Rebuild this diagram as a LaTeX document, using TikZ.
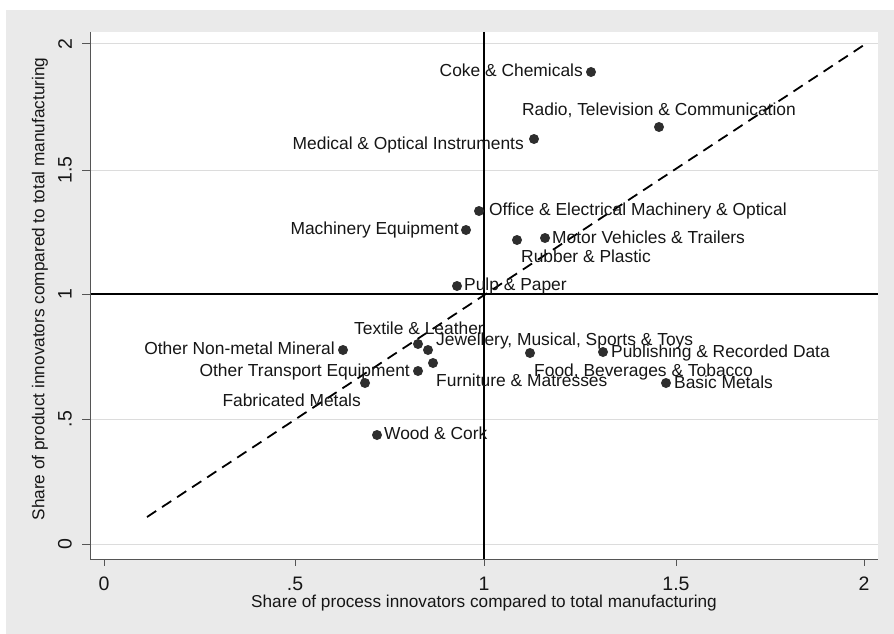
\documentclass[tikz,border=0pt]{standalone}
\usepackage{fontspec}
\setmainfont{Liberation Sans}
\definecolor{bgcol}{HTML}{EAEAEA}
\definecolor{gridcol}{HTML}{DCDCDC}
\definecolor{axiscol}{HTML}{555555}
\definecolor{textcol}{HTML}{161616}
\definecolor{dotcol}{HTML}{2E2E2E}
\begin{document}
\begin{tikzpicture}[x=1pt,y=-1pt,
  dot/.style={circle,fill=dotcol,inner sep=0pt,minimum size=10pt},
  lab/.style={font=\fontsize{17.4}{19}\selectfont,text=textcol,inner sep=0pt,text height=12.5pt,text depth=3.7pt},
  ticklab/.style={font=\fontsize{19.5}{21}\selectfont,text=textcol,inner sep=0pt},
  axtitle/.style={font=\fontsize{17.2}{19}\selectfont,text=textcol,inner sep=0pt},
  gridline/.style={draw=gridcol,line width=1pt},
  refline/.style={draw=black,line width=1.5pt},
  axisline/.style={draw=axiscol,line width=1pt}]
\useasboundingbox (0,0) rectangle (894,634);
\fill[white] (0,0) rectangle (894,634);
\fill[bgcol] (6,10) rectangle (894,634);
\fill[white] (90,32) rectangle (878,559);
% grid
\foreach \yy in {44,170,419,544} \draw[gridline] (90,\yy) -- (878,\yy);
% reference lines
\coordinate (hl) at (90,294); \coordinate (hr) at (878,294);
\coordinate (vt) at (484,32); \coordinate (vb) at (484,559);
\draw[refline] (hl) -- (hr);
\draw[refline] (vt) -- (vb);
% diagonal
\coordinate (d0) at (147,517); \coordinate (d1) at (864,45);
\draw[black,line width=1.8pt,dash pattern=on 11pt off 7pt] (d0) -- (d1);
% axes
\coordinate (o) at (90,559); \coordinate (ytop) at (90,32); \coordinate (xr) at (878,559);
\draw[axisline] (ytop) -- (o) -- (xr);
\foreach \yy/\t in {544/0,419/.5,294/1,170/1.5,44/2} {
  \draw[axisline] (82,\yy) -- (90,\yy);
  \node[ticklab,rotate=90] at (65,\yy) {\t};
}
\foreach \xx/\t in {104/0,295/.5,484/1,676/1.5,864/2} {
  \draw[axisline] (\xx,559) -- (\xx,566);
  \node[ticklab] at (\xx,584) {\t};
}
\node[axtitle] (xt) at (484,603) {Share of process innovators compared to total manufacturing};
\node[axtitle,rotate=90] (yt) at (40,289) {Share of product innovators compared to total manufacturing};
% data
\node[dot] (coke) at (591,72) {};
\node[lab,anchor=east] (cokeL) at (583,72) {Coke \& Chemicals};
\node[dot] (radio) at (659,127) {};
\node[lab] (radioL) at (659,111) {Radio, Television \& Communication};
\node[dot] (med) at (534,139) {};
\node[lab,anchor=east] (medL) at (524,145) {Medical \& Optical Instruments};
\node[dot] (off) at (479,211) {};
\node[lab,anchor=west] (offL) at (489,211) {Office \& Electrical Machinery \& Optical};
\node[dot] (mach) at (466,230) {};
\node[lab,anchor=east] (machL) at (459,230) {Machinery Equipment};
\node[dot] (rub) at (517,240) {};
\node[lab,anchor=west] (rubL) at (521,258) {Rubber \& Plastic};
\node[dot] (mot) at (545,238) {};
\node[lab,anchor=west] (motL) at (552,239) {Motor Vehicles \& Trailers};
\node[dot] (pulp) at (457,286) {};
\node[lab,anchor=west] (pulpL) at (464,286) {Pulp \& Paper};
\node[dot] (tex) at (418,344) {};
\node[lab] (texL) at (419,330) {Textile \& Leather};
\node[dot] (jew) at (428,350) {};
\node[lab,anchor=west] (jewL) at (436,341) {Jewellery, Musical, Sports \& Toys};
\node[dot] (onm) at (343,350) {};
\node[lab,anchor=east] (onmL) at (335,350) {Other Non-metal Mineral};
\node[dot] (otr) at (418,371) {};
\node[lab,anchor=east] (otrL) at (410,372) {Other Transport Equipment};
\node[dot] (fur) at (433,363) {};
\node[lab,anchor=west] (furL) at (436,382) {Furniture \& Matresses};
\node[dot] (fab) at (365,383) {};
\node[lab,anchor=east] (fabL) at (361,402) {Fabricated Metals};
\node[dot] (wood) at (377,435) {};
\node[lab,anchor=west] (woodL) at (384,435) {Wood \& Cork};
\node[dot] (pub) at (603,352) {};
\node[lab,anchor=west] (pubL) at (611,353) {Publishing \& Recorded Data};
\node[dot] (food) at (530,353) {};
\node[lab,anchor=west] (foodL) at (534,372) {Food, Beverages \& Tobacco};
\node[dot] (bas) at (666,383) {};
\node[lab,anchor=west] (basL) at (674,384) {Basic Metals};
\end{tikzpicture}
\end{document}
